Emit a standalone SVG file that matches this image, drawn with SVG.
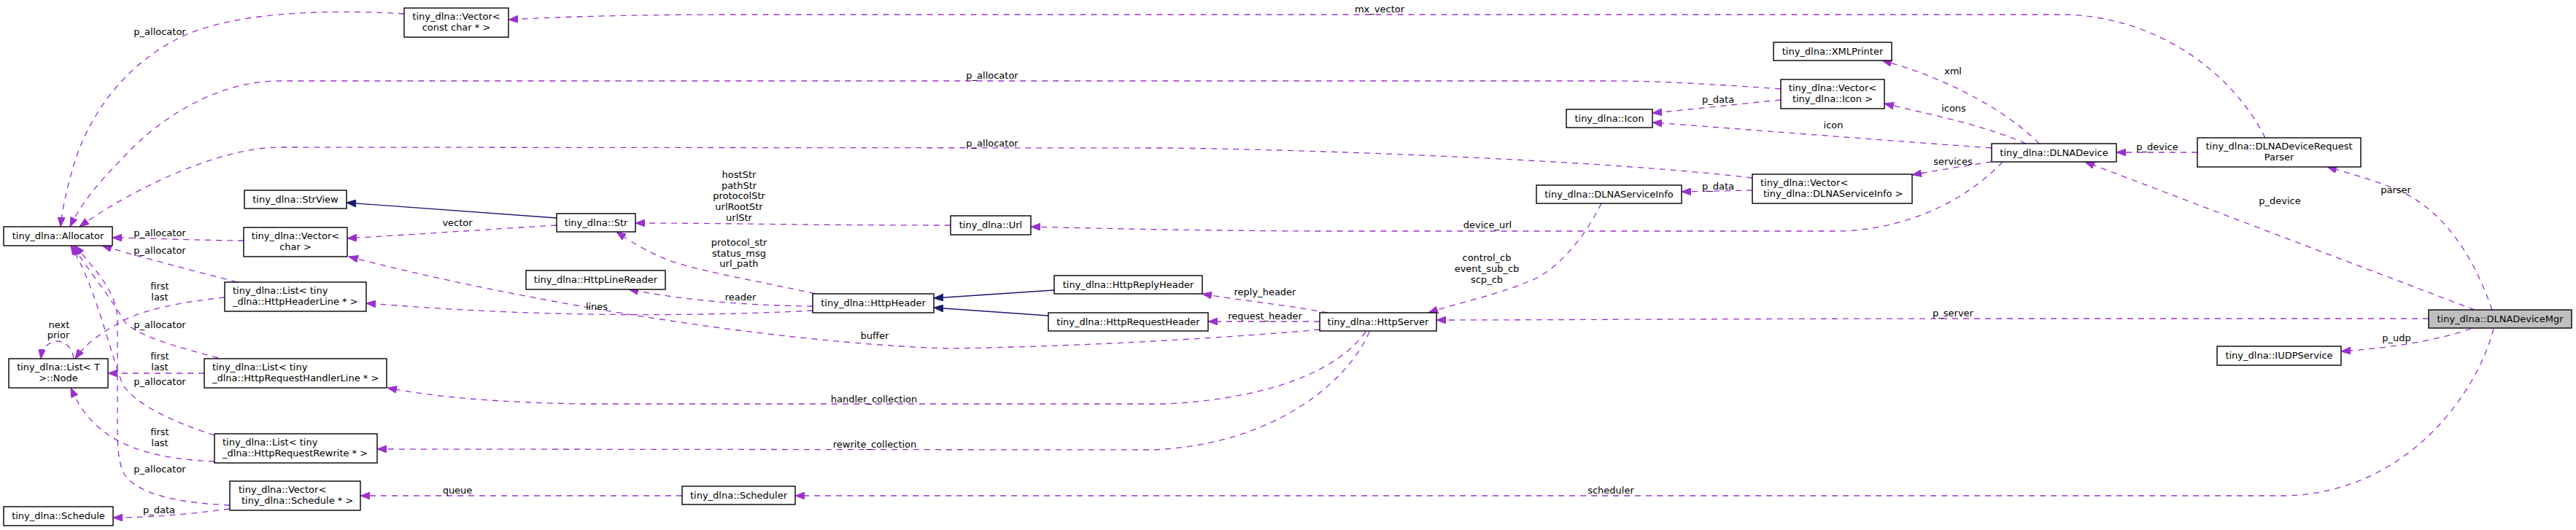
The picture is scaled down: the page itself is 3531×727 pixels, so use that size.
<svg xmlns="http://www.w3.org/2000/svg" width="3531" height="727" viewBox="0 0 3531 727">
<style>
text{font-family:"DejaVu Sans","Liberation Sans",sans-serif;font-size:13px;fill:#000}
.c{text-anchor:middle}
.s{text-anchor:start}
.box{fill:#fff;stroke:#000;stroke-width:1.4}
.root{fill:#bfbfbf;stroke:#000;stroke-width:1.4}
.e{fill:none;stroke:#9a32cd;stroke-width:1.3;stroke-dasharray:8,7;marker-end:url(#ap)}
.i{fill:none;stroke:#191970;stroke-width:1.3;marker-end:url(#an)}
</style>
<defs>
<marker id="ap" viewBox="0 0 13 10" refX="13" refY="5" markerWidth="13" markerHeight="10" markerUnits="userSpaceOnUse" orient="auto"><path d="M0,0 L13,5 L0,10 z" fill="#9a32cd" stroke="#9a32cd" stroke-dasharray="none"/></marker>
<marker id="an" viewBox="0 0 13 10" refX="13" refY="5" markerWidth="13" markerHeight="10" markerUnits="userSpaceOnUse" orient="auto"><path d="M0,0 L13,5 L0,10 z" fill="#191970" stroke="#191970" stroke-dasharray="none"/></marker>
</defs>
<rect width="3531" height="727" fill="#fff"/>
<g id="connectors">
<path class="e" d="M554,19 C480,14 330,12 250,50 C170,88 120,160 100,230 C90,265 85,290 83,311"/>
<path class="e" d="M2441,122 C2300,112 2250,111 2195,111 L383,111 C300,111 220,160 170,215 C130,255 108,285 96,311"/>
<path class="e" d="M2402,244 C2200,220 1800,205 1600,203 L383,202 C300,202 180,260 109,311"/>
<path class="i" d="M763,299 L475,278"/>
<path class="e" d="M334,330 C280,330 220,327 154,326"/>
<path class="e" d="M763,309 C680,314 560,322 476,327"/>
<path class="e" d="M1303,309 C1100,309 1000,306 871,306"/>
<path class="e" d="M1117,403 C1040,385 940,370 900,350 C875,338 860,328 845,318"/>
<path class="e" d="M1809,452 C1700,462 1500,475 1300,478 C1050,470 700,410 478,352"/>
<path class="e" d="M1114,420 C1020,419 940,412 862,397"/>
<path class="i" d="M1445,398 L1280,409"/>
<path class="i" d="M1437,433 L1280,422"/>
<path class="e" d="M1820,429 C1760,418 1700,412 1648,403"/>
<path class="e" d="M1809,441 L1656,441"/>
<path class="e" d="M1114,426 C1000,432 850,434 700,428 C620,425 560,420 502,416"/>
<path class="e" d="M1872,455 C1840,500 1760,545 1600,554 L800,554 C680,552 600,545 531,532"/>
<path class="e" d="M1877,455 C1850,520 1750,610 1580,617 L517,616"/>
<path class="e" d="M325,387 C260,370 190,352 140,337"/>
<path class="e" d="M308,408 C250,414 190,425 160,445 C130,462 115,475 103,492"/>
<path class="e" d="M299,491 C240,475 185,460 170,440 C150,405 120,370 100,337"/>
<path class="e" d="M280,512 L148,512"/>
<path class="e" d="M294,597 C240,580 185,555 168,527 C150,480 130,390 97,337"/>
<path class="e" d="M294,633 C220,630 170,615 140,590 C115,570 105,550 97,532"/>
<path class="e" d="M315,693 C250,690 190,680 170,650 C160,630 161,600 161,560 L161,440 C161,400 130,370 103,337"/>
<path class="e" d="M315,698 C260,705 210,710 155,710"/>
<path class="e" d="M101,492 C97,460 60,460 56,492"/>
<path class="e" d="M935,680 L494,680"/>
<path class="e" d="M3418,451 C3395,540 3300,675 3134,680 L1090,680"/>
<path class="e" d="M3329,437 L2720,437 C2400,437 2100,439 1969,439"/>
<path class="e" d="M3387,451 C3340,467 3280,477 3209,482"/>
<path class="e" d="M3392,425 L2858,222"/>
<path class="e" d="M3416,425 C3390,350 3350,290 3290,262 C3250,245 3220,238 3190,229"/>
<path class="e" d="M3012,209 L2901,209"/>
<path class="e" d="M3105,189 C3060,100 2960,25 2834,20 L1000,20 C850,20 750,24 697,27"/>
<path class="e" d="M2795,197 C2760,160 2680,110 2580,83"/>
<path class="e" d="M2777,197 C2720,172 2650,158 2583,142"/>
<path class="e" d="M2730,203 C2550,190 2400,178 2265,168"/>
<path class="e" d="M2441,137 C2380,143 2320,150 2265,155"/>
<path class="e" d="M2730,222 C2690,228 2660,233 2621,240"/>
<path class="e" d="M2402,261 L2305,263"/>
<path class="e" d="M2745,222 C2700,270 2620,315 2520,317 L1800,317 C1600,316 1500,313 1413,311"/>
<path class="e" d="M2195,279 C2170,330 2130,375 2093,387 C2050,405 2000,415 1958,429"/>
<text class="c" x="219" y="47.5">p_allocator</text>
<text class="c" x="1360" y="107.5">p_allocator</text>
<text class="c" x="1360" y="200.5">p_allocator</text>
<text class="c" x="219" y="323.5">p_allocator</text>
<text class="c" x="627" y="309.5">vector</text>
<text class="c" x="1013" y="243.5">hostStr</text>
<text class="c" x="1013" y="258.5">pathStr</text>
<text class="c" x="1013" y="273">protocolStr</text>
<text class="c" x="1013" y="288">urlRootStr</text>
<text class="c" x="1013" y="302.5">urlStr</text>
<text class="c" x="1013" y="336.5">protocol_str</text>
<text class="c" x="1013" y="351.5">status_msg</text>
<text class="c" x="1013" y="366">url_path</text>
<text class="c" x="1199" y="464.5">buffer</text>
<text class="c" x="1015" y="411.5">reader</text>
<text class="c" x="818" y="424.5">lines</text>
<text class="c" x="1734" y="404.5">reply_header</text>
<text class="c" x="1734" y="437.5">request_header</text>
<text class="c" x="1198" y="551.5">handler_collection</text>
<text class="c" x="1199" y="613.5">rewrite_collection</text>
<text class="c" x="219" y="347.5">p_allocator</text>
<text class="c" x="219" y="396.5">first</text>
<text class="c" x="219" y="411.5">last</text>
<text class="c" x="219" y="449.5">p_allocator</text>
<text class="c" x="219" y="492.5">first</text>
<text class="c" x="219" y="507.5">last</text>
<text class="c" x="219" y="527.5">p_allocator</text>
<text class="c" x="219" y="596.5">first</text>
<text class="c" x="219" y="611.5">last</text>
<text class="c" x="219" y="647.5">p_allocator</text>
<text class="c" x="218" y="703.5">p_data</text>
<text class="c" x="81" y="449.5">next</text>
<text class="c" x="80" y="463.5">prior</text>
<text class="c" x="627" y="676.5">queue</text>
<text class="c" x="2208" y="676.5">scheduler</text>
<text class="c" x="2677" y="433.5">p_server</text>
<text class="c" x="3285" y="467.5">p_udp</text>
<text class="c" x="3125" y="279.5">p_device</text>
<text class="c" x="3284" y="264.5">parser</text>
<text class="c" x="2957" y="205.5">p_device</text>
<text class="c" x="1891" y="16.5">mx_vector</text>
<text class="c" x="2677" y="101.5">xml</text>
<text class="c" x="2678" y="152.5">icons</text>
<text class="c" x="2513" y="175.5">icon</text>
<text class="c" x="2355" y="140.5">p_data</text>
<text class="c" x="2677" y="225.5">services</text>
<text class="c" x="2355" y="259.5">p_data</text>
<text class="c" x="2039" y="312.5">device_url</text>
<text class="c" x="2038" y="357.5">control_cb</text>
<text class="c" x="2038" y="372.5">event_sub_cb</text>
<text class="c" x="2038" y="387.5">scp_cb</text>
</g>
<g id="n_allocator"><rect class="box" x="5" y="311" width="149" height="26"/><text class="c" x="79.5" y="328">tiny_dlna::Allocator</text></g>
<g id="n_vector_cchar"><rect class="box" x="554" y="11" width="143" height="40"/><text class="c" x="625.5" y="27">tiny_dlna::Vector&lt;</text><text class="c" x="625.5" y="42">const char * &gt;</text></g>
<g id="n_strview"><rect class="box" x="335" y="261" width="140" height="25"/><text class="c" x="405" y="278">tiny_dlna::StrView</text></g>
<g id="n_vector_char"><rect class="box" x="334" y="312" width="142" height="40"/><text class="c" x="405" y="328">tiny_dlna::Vector&lt;</text><text class="c" x="405" y="343">char &gt;</text></g>
<g id="n_list_headerline"><rect class="box" x="308" y="387" width="194" height="40"/><text class="s" x="319" y="403">tiny_dlna::List&lt; tiny</text><text class="s" x="319" y="418">_dlna::HttpHeaderLine * &gt;</text></g>
<g id="n_list_node"><rect class="box" x="12" y="492" width="136" height="40"/><text class="c" x="80" y="508">tiny_dlna::List&lt; T</text><text class="c" x="80" y="523">&gt;::Node</text></g>
<g id="n_list_handler"><rect class="box" x="280" y="492" width="250" height="40"/><text class="s" x="291" y="508">tiny_dlna::List&lt; tiny</text><text class="s" x="291" y="523">_dlna::HttpRequestHandlerLine * &gt;</text></g>
<g id="n_list_rewrite"><rect class="box" x="294" y="595" width="223" height="40"/><text class="s" x="305" y="611">tiny_dlna::List&lt; tiny</text><text class="s" x="305" y="626">_dlna::HttpRequestRewrite * &gt;</text></g>
<g id="n_vector_schedule"><rect class="box" x="315" y="660" width="179" height="40"/><text class="s" x="327" y="676">tiny_dlna::Vector&lt;</text><text class="s" x="331" y="691">tiny_dlna::Schedule * &gt;</text></g>
<g id="n_schedule"><rect class="box" x="5" y="695" width="150" height="26"/><text class="c" x="80" y="712">tiny_dlna::Schedule</text></g>
<g id="n_str"><rect class="box" x="763" y="293" width="108" height="25"/><text class="c" x="817" y="310">tiny_dlna::Str</text></g>
<g id="n_linereader"><rect class="box" x="721" y="371" width="191" height="26"/><text class="c" x="816.5" y="388">tiny_dlna::HttpLineReader</text></g>
<g id="n_httpheader"><rect class="box" x="1114" y="403" width="166" height="26"/><text class="c" x="1197" y="420">tiny_dlna::HttpHeader</text></g>
<g id="n_replyheader"><rect class="box" x="1445" y="378" width="203" height="25"/><text class="c" x="1546.5" y="395">tiny_dlna::HttpReplyHeader</text></g>
<g id="n_requestheader"><rect class="box" x="1437" y="429" width="219" height="25"/><text class="c" x="1546.5" y="446">tiny_dlna::HttpRequestHeader</text></g>
<g id="n_httpserver"><rect class="box" x="1809" y="429" width="160" height="25"/><text class="c" x="1889" y="446">tiny_dlna::HttpServer</text></g>
<g id="n_scheduler"><rect class="box" x="935" y="667" width="155" height="25"/><text class="c" x="1012.5" y="684">tiny_dlna::Scheduler</text></g>
<g id="n_url"><rect class="box" x="1303" y="296" width="110" height="26"/><text class="c" x="1358" y="313">tiny_dlna::Url</text></g>
<g id="n_xmlprinter"><rect class="box" x="2431" y="58" width="162" height="25"/><text class="c" x="2512" y="75">tiny_dlna::XMLPrinter</text></g>
<g id="n_vector_icon"><rect class="box" x="2441" y="109" width="142" height="40"/><text class="c" x="2512" y="125">tiny_dlna::Vector&lt;</text><text class="c" x="2512" y="140">tiny_dlna::Icon &gt;</text></g>
<g id="n_icon"><rect class="box" x="2147" y="150" width="118" height="25"/><text class="c" x="2206" y="167">tiny_dlna::Icon</text></g>
<g id="n_serviceinfo"><rect class="box" x="2106" y="254" width="199" height="25"/><text class="c" x="2205.5" y="271">tiny_dlna::DLNAServiceInfo</text></g>
<g id="n_vector_serviceinfo"><rect class="box" x="2402" y="239" width="219" height="40"/><text class="s" x="2413" y="255">tiny_dlna::Vector&lt;</text><text class="s" x="2417" y="270">tiny_dlna::DLNAServiceInfo &gt;</text></g>
<g id="n_device"><rect class="box" x="2730" y="197" width="171" height="25"/><text class="c" x="2815.5" y="214">tiny_dlna::DLNADevice</text></g>
<g id="n_parser"><rect class="box" x="3012" y="189" width="224" height="40"/><text class="c" x="3124" y="205">tiny_dlna::DLNADeviceRequest</text><text class="c" x="3124" y="220">Parser</text></g>
<g id="n_mgr"><rect class="root" x="3329" y="425" width="196" height="25"/><text class="c" x="3427" y="442">tiny_dlna::DLNADeviceMgr</text></g>
<g id="n_udp"><rect class="box" x="3039" y="475" width="170" height="26"/><text class="c" x="3124" y="492">tiny_dlna::IUDPService</text></g>
</svg>
